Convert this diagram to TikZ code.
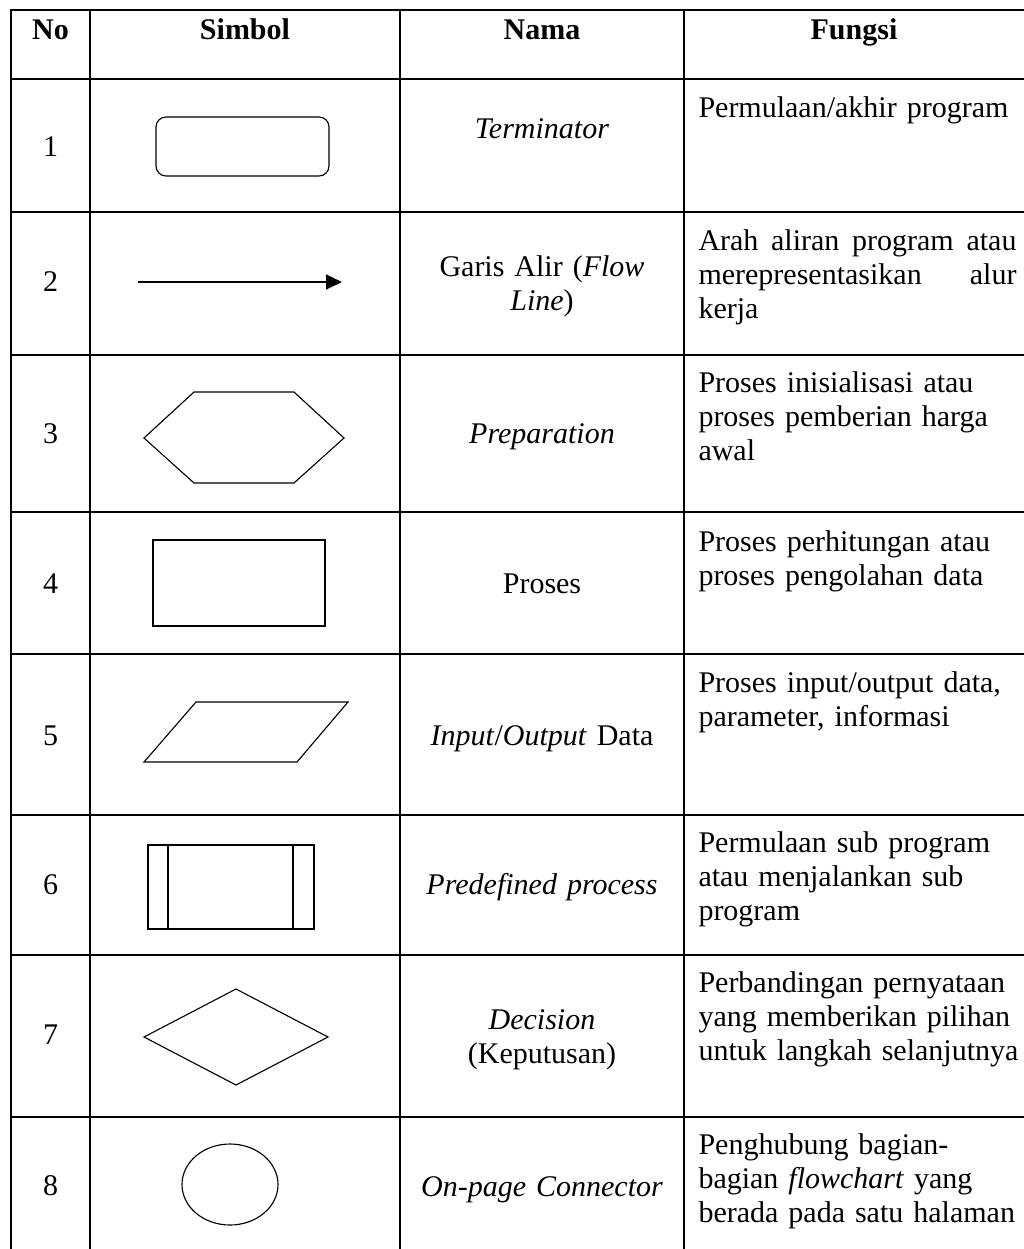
\documentclass[tikz,border=0pt]{standalone}
\usepackage{fontspec}
\setmainfont{Liberation Serif}
\usetikzlibrary{arrows.meta}
\begin{document}
\begin{tikzpicture}[x=0.4pt,y=-0.4pt,
    garis/.style={line width=0.6pt},
    simbol/.style={line width=0.45pt},
    judul/.style={anchor=base, inner sep=0pt, font=\fontsize{12}{13.6}\selectfont\bfseries},
    nomor/.style={anchor=base, inner sep=0pt, font=\fontsize{12}{13.6}\selectfont},
    nama/.style={anchor=base, inner sep=0pt, text width=108pt, align=center, font=\fontsize{12}{13.6}\selectfont},
    fungsi/.style={anchor=base west, inner sep=0pt, text width=130pt, align=left, font=\fontsize{12}{13.6}\selectfont}]
    \useasboundingbox (0,0) rectangle (1024,1249);

    % garis tabel
    \draw[garis] (11,1249) -- (11,10) -- (1024,10);
    \foreach \x in {90,400,684}
      \draw[garis] (\x,10) -- (\x,1249);
    \foreach \y in {79,212,355,512,654,815,955,1117}
      \draw[garis] (11,\y) -- (1024,\y);

    % judul kolom
    \node[judul] (hNo) at (50.5,39) {No};
    \node[judul] (hSimbol) at (245,39) {Simbol};
    \node[judul] (hNama) at (542,39) {Nama};
    \node[judul] (hFungsi) at (854,39) {Fungsi};

    % nomor
    \node[nomor] (n1) at (50.5,156) {1};
    \node[nomor] (n2) at (50.5,291) {2};
    \node[nomor] (n3) at (50.5,443) {3};
    \node[nomor] (n4) at (50.5,593) {4};
    \node[nomor] (n5) at (50.5,745) {5};
    \node[nomor] (n6) at (50.5,894) {6};
    \node[nomor] (n7) at (50.5,1044) {7};
    \node[nomor] (n8) at (50.5,1195) {8};

    % simbol
    \draw[simbol, rounded corners=4pt] (156,117) rectangle (329,176);

    \coordinate (alirAwal) at (138,282);
    \coordinate (alirAkhir) at (342,282);
    \draw[simbol, -{Triangle[length=6.4pt,width=6pt]}] (alirAwal) -- (alirAkhir);

    \draw[simbol] (144,438) -- (194,392) -- (294,392) -- (344,438)
      -- (294,483) -- (194,483) -- cycle;

    \draw[simbol] (153,540) rectangle (325,626);

    \draw[simbol] (196,702) -- (348,702) -- (297,762) -- (144,762) -- cycle;

    \draw[simbol] (148,845) rectangle (314,929);
    \draw[simbol] (168,845) -- (168,929);
    \draw[simbol] (293,845) -- (293,929);

    \draw[simbol] (144,1037) -- (236,989) -- (328,1037) -- (236,1085) -- cycle;

    \draw[simbol] (230,1184.5) ellipse [x radius=19.2pt, y radius=16.2pt];

    % nama
    \node[nama] (m1) at (542,138) {\textit{Terminator}};
    \node[nama] (m2) at (542,276) {Garis Alir (\textit{Flow}\\\textit{Line})};
    \node[nama] (m3) at (542,443) {\textit{Preparation}};
    \node[nama] (m4) at (542,593) {Proses};
    \node[nama] (m5) at (542,745) {\textit{Input}/\textit{Output} Data};
    \node[nama] (m6) at (542,894) {\textit{Predefined process}};
    \node[nama] (m7) at (542,1029) {\textit{Decision}\\(Keputusan)};
    \node[nama] (m8) at (542,1196) {\textit{On-page Connector}};

    % fungsi
    \node[fungsi] (f1) at (698,117) {Permulaan/akhir program};
    \node[fungsi] (f2) at (698,250) {\leavevmode\hbox to 127.2pt{Arah\hfil aliran\hfil program\hfil atau}\\
      \leavevmode\hbox to 127.2pt{merepresentasikan\hfil alur}\\kerja};
    \node[fungsi] (f3) at (698,392) {Proses inisialisasi atau\\proses pemberian harga\\awal};
    \node[fungsi] (f4) at (698,551) {Proses perhitungan atau\\proses pengolahan data};
    \node[fungsi] (f5) at (698,692) {Proses input/output data,\\parameter, informasi};
    \node[fungsi] (f6) at (698,852) {Permulaan sub program\\atau menjalankan sub\\program};
    \node[fungsi] (f7) at (698,992) {Perbandingan pernyataan\\yang memberikan pilihan\\untuk langkah selanjutnya};
    \node[fungsi] (f8) at (698,1154) {Penghubung bagian-\\bagian \textit{flowchart} yang\\berada pada satu halaman};
  \end{tikzpicture}
\end{document}
